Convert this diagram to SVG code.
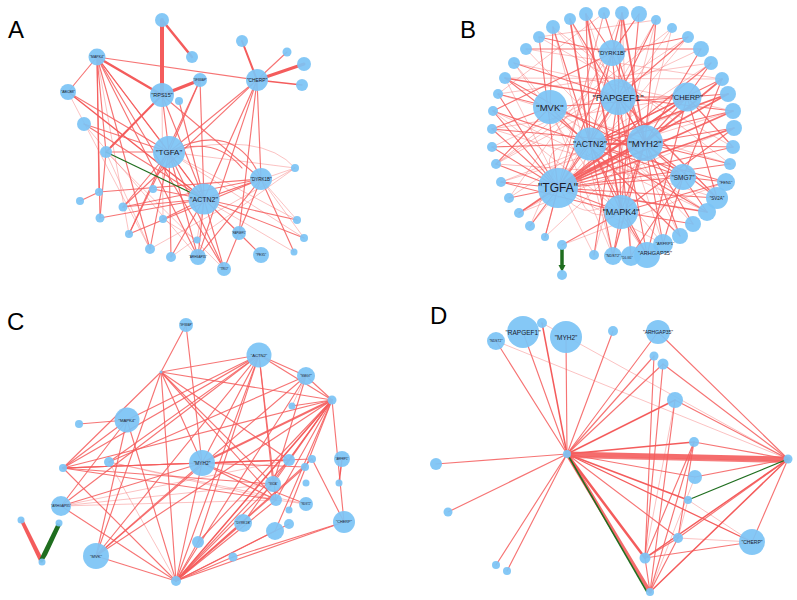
<svg xmlns="http://www.w3.org/2000/svg" width="797" height="600" viewBox="0 0 797 600">
<style>
.n{fill:#7cc4f5;fill-opacity:.93}
.e{stroke:#f45c5c;fill:none;stroke-linecap:round}
.m{stroke-width:1.15;stroke-opacity:.85}
.k{stroke-width:1.7;stroke-opacity:.9}
.lt{stroke-width:.9;stroke-opacity:.42}
.g{stroke:#1f6e1f;fill:none}
.t{font-family:"Liberation Sans",Arial,sans-serif;text-anchor:middle;fill:#1a1a2a;dominant-baseline:central}
.p{font-family:"Liberation Sans",Arial,sans-serif;font-size:24px;fill:#000}
</style>
<rect width="797" height="600" fill="#fff"/>
<text class="p" x="8" y="38">A</text>
<text class="p" x="460" y="38">B</text>
<text class="p" x="7" y="330">C</text>
<text class="p" x="430" y="324">D</text>

<g id="connectors">
<g id="edges-A">
<path class="e" stroke-width="4" d="M162 95L162 20"/>
<path class="e" stroke-width="3" d="M200 80L162 95"/>
<path class="e" stroke-width="3" d="M257 80L304 64"/>
<path class="e" stroke-width="2.5" d="M97 57L162 95"/>
<path class="e" stroke-width="2.5" d="M192 57L162 20"/>
<path class="e" stroke-width="2" d="M257 80L242 41"/>
<path class="e" stroke-width="2" d="M162 95L106 152"/>
<path class="e" stroke-width="1.5" d="M257 80L302 85"/>
<path class="e" stroke-width="1.5" d="M68 92L204 199"/>
<path class="e m" d="M97 57L257 80"/>
<path class="e m" d="M97 57L68 92"/>
<path class="e m" d="M97 57L169 152"/>
<path class="e m" d="M97 57L204 199"/>
<path class="e m" d="M97 57L99 192"/>
<path class="e m" d="M97 57L100 218"/>
<path class="e m" d="M97 57L150 249"/>
<path class="e m" d="M97 57L198 257"/>
<path class="e m" d="M97 57L224 269"/>
<path class="e m" d="M97 57L106 152"/>
<path class="e m" d="M68 92L169 152"/>
<path class="e m" d="M162 95L169 152"/>
<path class="e m" d="M162 95L261 179"/>
<path class="e m" d="M162 95L204 199"/>
<path class="e m" d="M200 80L169 152"/>
<path class="e m" d="M200 80L204 199"/>
<path class="e m" d="M200 80L129 234"/>
<path class="e m" d="M179 101L204 199"/>
<path class="e m" d="M257 80L169 152"/>
<path class="e m" d="M257 80L261 179"/>
<path class="e m" d="M257 80L204 199"/>
<path class="e m" d="M257 80L239 233"/>
<path class="e m" d="M257 80L123 207"/>
<path class="e m" d="M257 80L198 257"/>
<path class="e m" d="M257 80L287 52"/>
<path class="e m" d="M84 124L169 152"/>
<path class="e m" d="M84 124L204 199"/>
<path class="e m" d="M106 152L169 152"/>
<path class="e m" d="M106 152L100 218"/>
<path class="e m" d="M169 152L204 199"/>
<path class="e m" d="M169 152L171 257"/>
<path class="e m" d="M169 152L198 257"/>
<path class="e m" d="M169 152L224 269"/>
<path class="e m" d="M169 152L123 207"/>
<path class="e m" d="M169 152L129 234"/>
<path class="e m" d="M169 152L150 249"/>
<path class="e m" d="M261 179L204 199"/>
<path class="e m" d="M261 179L123 207"/>
<path class="e m" d="M261 179L198 257"/>
<path class="e m" d="M261 179L224 269"/>
<path class="e m" d="M261 179L294 252"/>
<path class="e m" d="M261 179L99 192"/>
<path class="e m" d="M261 179L129 234"/>
<path class="e m" d="M204 199L100 218"/>
<path class="e m" d="M204 199L123 207"/>
<path class="e m" d="M204 199L163 219"/>
<path class="e m" d="M204 199L297 220"/>
<path class="e m" d="M204 199L239 233"/>
<path class="e m" d="M204 199L224 269"/>
<path class="e m" d="M204 199L198 257"/>
<path class="e m" d="M204 199L171 257"/>
<path class="e m" d="M204 199L304 238"/>
<path class="e m" d="M99 192L80 201"/>
<path class="e m" d="M239 233L261 255"/>
<path class="e m" d="M153 189L204 199"/>
<path class="e m" d="M169 152Q235 118 261 179"/>
<path class="e m" d="M169 152Q215 135 242 168"/>
<path class="e lt" d="M169 152Q262 130 295 168"/>
<path class="e lt" d="M169 152L295 168"/>
<path class="e lt" d="M169 152L297 220"/>
<path class="e lt" d="M295 168L150 249"/>
<path class="e lt" d="M295 168L171 257"/>
<path class="e lt" d="M295 168L204 199"/>
<path class="e lt" d="M204 199L294 252"/>
<path class="e lt" d="M204 199L261 255"/>
<path class="e lt" d="M106 152L150 249"/>
<path class="e lt" d="M84 124L198 257"/>
<path class="e lt" d="M68 92L150 249"/>
<path class="e lt" d="M97 57L129 234"/>
<path class="e lt" d="M261 179L304 238"/>
<path class="e lt" d="M169 152L304 238"/>
<path class="e lt" d="M162 95L163 219"/>
<path class="e lt" d="M106 152L224 269"/>
<path class="e lt" d="M197 240L204 199"/>
<path class="e lt" d="M163 219L197 240"/>
<path class="e lt" d="M261 179L297 220"/>
<path class="g" stroke-width="1.3" d="M106 152L204 199"/>
</g>

<g id="edges-B">
<path class="e lt" d="M656 20L594 255"/>
<path class="e lt" d="M639 14L509 198"/>
<path class="e lt" d="M622 13L530 226"/>
<path class="e lt" d="M604 13L545 237"/>
<path class="e lt" d="M570 19L680 236"/>
<path class="e lt" d="M553 27L730 164"/>
<path class="e lt" d="M539 37L733 147"/>
<path class="e lt" d="M514 63L733 111"/>
<path class="e lt" d="M505 78L722 79"/>
<path class="e lt" d="M498 94L711 63"/>
<path class="e lt" d="M493 111L707 212"/>
<path class="e lt" d="M492 129L717 198"/>
<path class="e lt" d="M492 147L701 49"/>
<path class="e lt" d="M496 164L688 37"/>
<path class="e lt" d="M501 182L728 94"/>
<path class="e lt" d="M519 213L734 128"/>
<path class="e lt" d="M562 245L726 182"/>
<path class="e lt" d="M622 13L631 256"/>
<path class="e lt" d="M586 14L663 244"/>
<path class="e lt" d="M526 49L693 224"/>
<path class="e lt" d="M688 37L530 226"/>
<path class="e lt" d="M672 28L496 164"/>
<path class="e lt" d="M711 63L509 198"/>
<path class="e lt" d="M733 111L501 182"/>
<path class="e lt" d="M730 164L498 94"/>
<path class="e lt" d="M663 244L514 63"/>
<path class="e lt" d="M613 256L553 27"/>
<path class="e lt" d="M656 20L539 37"/>
<path class="e lt" d="M604 13L498 94"/>
<path class="e lt" d="M672 28L613 256"/>
<path class="e lt" d="M558 188L604 13"/>
<path class="e lt" d="M558 188L656 20"/>
<path class="e lt" d="M558 188L663 244"/>
<path class="e lt" d="M645 143L519 213"/>
<path class="e lt" d="M645 143L545 237"/>
<path class="e lt" d="M590 144L672 28"/>
<path class="e lt" d="M618 97L496 164"/>
<path class="e lt" d="M687 97L492 129"/>
<path class="e lt" d="M683 177L496 164"/>
<path class="e lt" d="M621 212L493 111"/>
<path class="e lt" d="M550 107L707 212"/>
<path class="e lt" d="M550 107L613 256"/>
<path class="e lt" d="M505 78L594 255"/>
<path class="e lt" d="M514 63L647 255"/>
<path class="e lt" d="M526 49L722 79"/>
<path class="e lt" d="M553 27L717 198"/>
<path class="e lt" d="M558 188Q530 140 590 144"/>
<path class="e lt" d="M558 188Q600 250 645 143"/>
<path class="e lt" d="M590 144Q560 230 621 212"/>
<path class="e m" d="M558 188L492 129"/>
<path class="e m" d="M558 188L492 147"/>
<path class="e m" d="M558 188L496 164"/>
<path class="e m" d="M558 188L501 182"/>
<path class="e m" d="M558 188L509 198"/>
<path class="e m" d="M558 188L519 213"/>
<path class="e m" d="M558 188L530 226"/>
<path class="e m" d="M558 188L545 237"/>
<path class="e m" d="M558 188L539 37"/>
<path class="e m" d="M558 188L493 111"/>
<path class="e m" d="M558 188L498 94"/>
<path class="e m" d="M558 188L590 144"/>
<path class="e m" d="M558 188L621 212"/>
<path class="e m" d="M558 188L683 177"/>
<path class="e m" d="M558 188L717 198"/>
<path class="e m" d="M558 188L730 164"/>
<path class="e m" d="M558 188L733 147"/>
<path class="e m" d="M558 188L618 97"/>
<path class="e m" d="M558 188L612 53"/>
<path class="e m" d="M558 188L711 63"/>
<path class="e m" d="M645 143L570 19"/>
<path class="e m" d="M645 143L604 13"/>
<path class="e m" d="M645 143L656 20"/>
<path class="e m" d="M645 143L701 49"/>
<path class="e m" d="M645 143L734 128"/>
<path class="e m" d="M645 143L730 164"/>
<path class="e m" d="M645 143L717 198"/>
<path class="e m" d="M645 143L693 224"/>
<path class="e m" d="M645 143L663 244"/>
<path class="e m" d="M645 143L613 256"/>
<path class="e m" d="M645 143L621 212"/>
<path class="e m" d="M645 143L683 177"/>
<path class="e m" d="M645 143L687 97"/>
<path class="e m" d="M645 143L618 97"/>
<path class="e m" d="M645 143L550 107"/>
<path class="e m" d="M645 143L492 129"/>
<path class="e m" d="M590 144L493 111"/>
<path class="e m" d="M590 144L492 147"/>
<path class="e m" d="M590 144L505 78"/>
<path class="e m" d="M590 144L553 27"/>
<path class="e m" d="M590 144L586 14"/>
<path class="e m" d="M590 144L622 13"/>
<path class="e m" d="M590 144L722 79"/>
<path class="e m" d="M590 144L733 111"/>
<path class="e m" d="M590 144L733 147"/>
<path class="e m" d="M590 144L726 182"/>
<path class="e m" d="M590 144L707 212"/>
<path class="e m" d="M590 144L647 255"/>
<path class="e m" d="M590 144L613 256"/>
<path class="e m" d="M590 144L621 212"/>
<path class="e m" d="M590 144L683 177"/>
<path class="e m" d="M590 144L687 97"/>
<path class="e m" d="M590 144L618 97"/>
<path class="e m" d="M618 97L514 63"/>
<path class="e m" d="M618 97L622 13"/>
<path class="e m" d="M618 97L656 20"/>
<path class="e m" d="M618 97L688 37"/>
<path class="e m" d="M618 97L733 111"/>
<path class="e m" d="M618 97L717 198"/>
<path class="e m" d="M618 97L647 255"/>
<path class="e m" d="M618 97L594 255"/>
<path class="e m" d="M618 97L621 212"/>
<path class="e m" d="M618 97L687 97"/>
<path class="e m" d="M550 107L553 27"/>
<path class="e m" d="M550 107L498 94"/>
<path class="e m" d="M550 107L492 129"/>
<path class="e m" d="M550 107L496 164"/>
<path class="e m" d="M550 107L687 97"/>
<path class="e m" d="M550 107L680 236"/>
<path class="e m" d="M687 97L728 94"/>
<path class="e m" d="M687 97L711 63"/>
<path class="e m" d="M687 97L733 147"/>
<path class="e m" d="M687 97L717 198"/>
<path class="e m" d="M687 97L647 255"/>
<path class="e m" d="M687 97L519 213"/>
<path class="e m" d="M683 177L722 79"/>
<path class="e m" d="M683 177L726 182"/>
<path class="e m" d="M683 177L707 212"/>
<path class="e m" d="M683 177L663 244"/>
<path class="e m" d="M683 177L631 256"/>
<path class="e m" d="M683 177L505 78"/>
<path class="e m" d="M621 212L562 245"/>
<path class="e m" d="M621 212L613 256"/>
<path class="e m" d="M621 212L647 255"/>
<path class="e m" d="M621 212L693 224"/>
<path class="e m" d="M621 212L726 182"/>
<path class="e m" d="M621 212L734 128"/>
<path class="e m" d="M621 212L639 14"/>
<path class="e m" d="M621 212L501 182"/>
<path class="e m" d="M612 53L539 37"/>
<path class="e m" d="M612 53L586 14"/>
<path class="e m" d="M612 53L639 14"/>
<path class="e m" d="M612 53L688 37"/>
<path class="e m" d="M612 53L493 111"/>
<path class="e m" d="M612 53L680 236"/>
<path class="e m" d="M612 53L631 256"/>
<path class="e m" d="M526 49L701 49"/>
<path class="e k" d="M558 188L645 143"/>
<path class="e k" d="M560 184L647 140"/>
<path class="e k" d="M558 188L687 97"/>
<path class="e k" d="M558 188L728 94"/>
<path class="e k" d="M558 188L733 111"/>
<path class="e k" d="M558 188L734 128"/>
<path class="e k" d="M558 188L707 212"/>
<path class="e k" d="M590 144L728 94"/>
<path class="e k" d="M590 144L645 143"/>
<path class="e k" d="M645 143L722 79"/>
<path class="e k" d="M505 78L618 97"/>
<path class="e k" d="M586 14L621 212"/>
<path class="e k" d="M622 13L645 143"/>
<path class="e k" d="M570 19L590 144"/>
<path class="g" stroke-width="3.5" d="M562 249L562 266"/>
<path fill="#1f6e1f" d="M558.5 265L565.5 265L562 272Z"/>
</g>

<g id="edges-C">
<path class="e m" d="M186 325L161 372"/>
<path class="e m" d="M186 325L202 463"/>
<path class="e m" d="M161 372L259 355"/>
<path class="e m" d="M161 372L332 400"/>
<path class="e m" d="M161 372L63 468"/>
<path class="e m" d="M161 372L96 556"/>
<path class="e m" d="M161 372L176 581"/>
<path class="e m" d="M161 372L273 484"/>
<path class="e m" d="M161 372L202 463"/>
<path class="e m" d="M161 372L276 500"/>
<path class="e m" d="M161 372L289 460"/>
<path class="e m" d="M259 355L127 420"/>
<path class="e m" d="M259 355L63 468"/>
<path class="e m" d="M259 355L61 506"/>
<path class="e m" d="M259 355L96 556"/>
<path class="e m" d="M259 355L202 463"/>
<path class="e m" d="M259 355L176 581"/>
<path class="e m" d="M259 355L273 484"/>
<path class="e m" d="M259 355L306 376"/>
<path class="e m" d="M259 355L198 542"/>
<path class="e m" d="M259 355L332 400"/>
<path class="e m" d="M259 355L276 500"/>
<path class="e m" d="M259 355L109 462"/>
<path class="e m" d="M306 376L96 556"/>
<path class="e m" d="M306 376L176 581"/>
<path class="e m" d="M306 376L273 484"/>
<path class="e m" d="M306 376L109 462"/>
<path class="e m" d="M332 400L96 556"/>
<path class="e m" d="M332 400L198 542"/>
<path class="e m" d="M332 400L243 523"/>
<path class="e m" d="M332 400L276 500"/>
<path class="e m" d="M332 400L273 484"/>
<path class="e m" d="M332 400L289 460"/>
<path class="e m" d="M332 400L63 468"/>
<path class="e m" d="M332 400L306 376"/>
<path class="e m" d="M332 400L292 406"/>
<path class="e m" d="M332 400L275 531"/>
<path class="e m" d="M332 400L289 510"/>
<path class="e m" d="M332 400L344 522"/>
<path class="e m" d="M127 420L79 424"/>
<path class="e m" d="M127 420L63 468"/>
<path class="e m" d="M127 420L61 506"/>
<path class="e m" d="M127 420L96 556"/>
<path class="e m" d="M127 420L176 581"/>
<path class="e m" d="M202 463L63 468"/>
<path class="e m" d="M202 463L61 506"/>
<path class="e m" d="M202 463L96 556"/>
<path class="e m" d="M202 463L176 581"/>
<path class="e m" d="M202 463L276 500"/>
<path class="e m" d="M202 463L289 460"/>
<path class="e m" d="M202 463L306 504"/>
<path class="e m" d="M202 463L305 467"/>
<path class="e m" d="M63 468L273 484"/>
<path class="e m" d="M63 468L276 500"/>
<path class="e m" d="M63 468L289 460"/>
<path class="e m" d="M63 468L312 459"/>
<path class="e m" d="M63 468L176 581"/>
<path class="e lt" d="M61 506L276 500"/>
<path class="e lt" d="M61 506L273 484"/>
<path class="e m" d="M61 506L176 581"/>
<path class="e lt" d="M61 506L289 460"/>
<path class="e m" d="M176 581L96 556"/>
<path class="e m" d="M176 581L273 484"/>
<path class="e m" d="M176 581L276 500"/>
<path class="e m" d="M176 581L289 460"/>
<path class="e m" d="M176 581L243 523"/>
<path class="e m" d="M176 581L344 522"/>
<path class="e m" d="M176 581L233 557"/>
<path class="e m" d="M176 581L275 531"/>
<path class="e m" d="M176 581L198 542"/>
<path class="e m" d="M176 581L289 524"/>
<path class="e m" d="M176 581L305 467"/>
<path class="e m" d="M176 581L312 459"/>
<path class="e m" d="M344 522L233 557"/>
<path class="e m" d="M344 522L312 459"/>
<path class="e lt" d="M109 462L276 500"/>
<path class="e lt" d="M109 462L306 504"/>
<path class="e lt" d="M109 462L176 581"/>
<path class="e lt" d="M306 376L292 406"/>
<path class="e lt" d="M276 500L306 504"/>
<path class="e" stroke-width="2" stroke-opacity=".9" d="M332 400L202 463"/>
<path class="e" stroke-width="1.5" d="M332 400L176 581"/>
<path class="e" stroke-width="1.5" d="M342 459L339 483"/>
<polygon fill="#f45c5c" points="20,521 23,519 44,561 40,563"/>
<polygon fill="#1f6e1f" points="57,523 61,525 47,555 42,563 39,560"/>
</g>

<g id="edges-D">
<path class="e" stroke-width="5" stroke-opacity=".9" d="M567 454L788 459"/>
<path class="e" stroke-width="2" stroke-opacity=".8" d="M567 457L788 462"/>
<path class="e" stroke-width="3.5" stroke-opacity=".9" d="M567 454L650 592"/>
<path class="e" stroke-width="2.5" d="M567 454L645 558"/>
<path class="g" stroke-width="1.5" d="M569 457L647 592"/>
<path class="e" stroke-width="1.5" d="M567 454L688 500"/>
<path class="e" stroke-width="1.5" d="M567 454L694 442"/>
<path class="e" stroke-width="1.5" d="M567 454L675 400"/>
<path class="e" stroke-width="1.5" d="M567 454L542 323"/>
<path class="e" stroke-width="1.3" d="M567 454L752 542"/>
<path class="e m" d="M567 454L695 477"/>
<path class="e m" d="M567 454L678 538"/>
<path class="e m" d="M567 454L496 341"/>
<path class="e m" d="M567 454L523 332"/>
<path class="e m" d="M567 454L566 337"/>
<path class="e m" d="M567 454L658 332"/>
<path class="e m" d="M567 454L654 356"/>
<path class="e m" d="M567 454L663 364"/>
<path class="e m" d="M567 454L436 464"/>
<path class="e m" d="M567 454L448 512"/>
<path class="e m" d="M567 454L496 565"/>
<path class="e m" d="M567 454L507 571"/>
<path class="e m" d="M567 454L613 331"/>
<path class="e m" d="M788 459L658 332"/>
<path class="e m" d="M788 459L663 364"/>
<path class="e m" d="M788 459L675 400"/>
<path class="e m" d="M788 459L694 442"/>
<path class="e m" d="M788 459L695 477"/>
<path class="e m" d="M788 459L752 542"/>
<path class="e m" d="M788 459L678 538"/>
<path class="e" stroke-width="1.5" d="M788 459L645 558"/>
<path class="e" stroke-width="1.5" d="M788 459L650 592"/>
<path class="e lt" d="M788 459L542 323"/>
<path class="e lt" d="M788 459L496 341"/>
<path class="g" stroke-width="1.3" d="M788 459L688 500"/>
<path class="e m" d="M694 442L645 558"/>
<path class="e m" d="M694 442L650 592"/>
<path class="e m" d="M654 356L645 558"/>
<path class="e m" d="M663 364L645 558"/>
<path class="e lt" d="M675 400L645 558"/>
<path class="e m" d="M675 400L650 592"/>
<path class="e m" d="M678 538L645 558"/>
<path class="e m" d="M678 538L650 592"/>
<path class="e m" d="M645 558L752 542"/>
<path class="e lt" d="M678 538L752 542"/>
<path class="e lt" d="M688 500L752 542"/>
<path class="e lt" d="M695 477L650 592"/>
<path class="e m" d="M694 442L678 538"/>
<path class="e lt" d="M688 500L678 538"/>
<path class="e m" d="M645 558L650 592"/>
</g>
</g>

<g id="A-nodes">
<g id="a1"><circle class="n" cx="162" cy="20" r="7"/></g>
<g id="a2"><circle class="n" cx="192" cy="57" r="6"/></g>
<g id="a-MAPK4"><circle class="n" cx="97" cy="57" r="8.5"/><text class="t" x="97" y="57" font-size="3.5">"MAPK4"</text></g>
<g id="a-RPS15"><circle class="n" cx="162" cy="95" r="12"/><text class="t" x="162" y="95" font-size="5.5">"RPS15"</text></g>
<g id="a-SFSWAP"><circle class="n" cx="200" cy="80" r="7"/><text class="t" x="200" y="80" font-size="2.8">"SFSWAP"</text></g>
<g id="a6"><circle class="n" cx="179" cy="101" r="4"/></g>
<g id="a-CHERP"><circle class="n" cx="257" cy="80" r="11"/><text class="t" x="257" y="80" font-size="4.8">"CHERP"</text></g>
<g id="a8"><circle class="n" cx="242" cy="41" r="6"/></g>
<g id="a9"><circle class="n" cx="287" cy="52" r="4.5"/></g>
<g id="a10"><circle class="n" cx="304" cy="64" r="7"/></g>
<g id="a11"><circle class="n" cx="302" cy="85" r="6"/></g>
<g id="a-ABCB8"><circle class="n" cx="68" cy="92" r="8"/><text class="t" x="68" y="92" font-size="3.5">"ABCB8"</text></g>
<g id="a13"><circle class="n" cx="84" cy="124" r="7"/></g>
<g id="a14"><circle class="n" cx="106" cy="152" r="6"/></g>
<g id="a-TGFA"><circle class="n" cx="169" cy="152" r="16"/><text class="t" x="169" y="152" font-size="8">"TGFA"</text></g>
<g id="a-DYRK1B"><circle class="n" cx="261" cy="179" r="11"/><text class="t" x="261" y="179" font-size="4.5">"DYRK1B"</text></g>
<g id="a-ACTN2"><circle class="n" cx="204" cy="199" r="15.5"/><text class="t" x="204" y="199" font-size="7">"ACTN2"</text></g>
<g id="a18"><circle class="n" cx="295" cy="168" r="4"/></g>
<g id="a19"><circle class="n" cx="99" cy="192" r="4"/></g>
<g id="a20"><circle class="n" cx="80" cy="201" r="4"/></g>
<g id="a21"><circle class="n" cx="153" cy="189" r="4"/></g>
<g id="a22"><circle class="n" cx="123" cy="207" r="4.5"/></g>
<g id="a23"><circle class="n" cx="100" cy="218" r="4.5"/></g>
<g id="a24"><circle class="n" cx="163" cy="219" r="4"/></g>
<g id="a25"><circle class="n" cx="129" cy="234" r="4"/></g>
<g id="a26"><circle class="n" cx="150" cy="249" r="5"/></g>
<g id="a27"><circle class="n" cx="171" cy="257" r="5"/></g>
<g id="a-ARHGAP35"><circle class="n" cx="198" cy="257" r="8"/><text class="t" x="198" y="257" font-size="3">"ARHGAP35"</text></g>
<g id="a29"><circle class="n" cx="197" cy="240" r="3.5"/></g>
<g id="a-RAPGEF1"><circle class="n" cx="239" cy="233" r="7"/><text class="t" x="239" y="233" font-size="2.6">"RAPGEF1"</text></g>
<g id="a-PEX5"><circle class="n" cx="261" cy="255" r="8"/><text class="t" x="261" y="255" font-size="3.2">"PEX5"</text></g>
<g id="a-TRO"><circle class="n" cx="224" cy="269" r="7"/><text class="t" x="224" y="269" font-size="3.2">"TRO"</text></g>
<g id="a33"><circle class="n" cx="297" cy="220" r="4"/></g>
<g id="a34"><circle class="n" cx="304" cy="238" r="4"/></g>
<g id="a35"><circle class="n" cx="294" cy="252" r="3.5"/></g>
</g>

<g id="B-nodes">
<g id="b1"><circle class="n" cx="656" cy="20" r="5"/></g>
<g id="b2"><circle class="n" cx="639" cy="14" r="8"/></g>
<g id="b3"><circle class="n" cx="622" cy="13" r="7"/></g>
<g id="b4"><circle class="n" cx="604" cy="13" r="6"/></g>
<g id="b5"><circle class="n" cx="586" cy="14" r="7"/></g>
<g id="b6"><circle class="n" cx="570" cy="19" r="6"/></g>
<g id="b7"><circle class="n" cx="553" cy="27" r="7"/></g>
<g id="b8"><circle class="n" cx="539" cy="37" r="6"/></g>
<g id="b9"><circle class="n" cx="526" cy="49" r="6"/></g>
<g id="b10"><circle class="n" cx="514" cy="63" r="6"/></g>
<g id="b11"><circle class="n" cx="505" cy="78" r="6"/></g>
<g id="b12"><circle class="n" cx="498" cy="94" r="5"/></g>
<g id="b13"><circle class="n" cx="493" cy="111" r="5"/></g>
<g id="b14"><circle class="n" cx="492" cy="129" r="5"/></g>
<g id="b15"><circle class="n" cx="492" cy="147" r="5"/></g>
<g id="b16"><circle class="n" cx="496" cy="164" r="5"/></g>
<g id="b17"><circle class="n" cx="501" cy="182" r="5"/></g>
<g id="b18"><circle class="n" cx="509" cy="198" r="5"/></g>
<g id="b19"><circle class="n" cx="519" cy="213" r="5"/></g>
<g id="b20"><circle class="n" cx="530" cy="226" r="5"/></g>
<g id="b21"><circle class="n" cx="545" cy="237" r="4"/></g>
<g id="b22"><circle class="n" cx="562" cy="245" r="5"/></g>
<g id="b22t"><circle class="n" cx="562" cy="275" r="5"/></g>
<g id="b23"><circle class="n" cx="594" cy="255" r="5"/></g>
<g id="b-NDST2"><circle class="n" cx="613" cy="256" r="9"/><text class="t" x="613" y="256" font-size="3.8">"NDST2"</text></g>
<g id="b-DLG5"><circle class="n" cx="631" cy="256" r="10"/><text class="t" x="627" y="258" font-size="3.4">"DLG5"</text></g>
<g id="b-ARFRP1"><circle class="n" cx="663" cy="244" r="10"/><text class="t" x="665" y="243" font-size="4">"ARFRP1"</text></g>
<g id="b-ARHGAP35"><circle class="n" cx="647" cy="255" r="13"/><text class="t" x="655" y="253" font-size="5.6">"ARHGAP35"</text></g>
<g id="b28"><circle class="n" cx="680" cy="236" r="8"/></g>
<g id="b29"><circle class="n" cx="693" cy="224" r="8"/></g>
<g id="b30"><circle class="n" cx="707" cy="212" r="9"/></g>
<g id="b-SV2A"><circle class="n" cx="717" cy="198" r="11"/><text class="t" x="717" y="198" font-size="4.5">"SV2A"</text></g>
<g id="b-FEN1"><circle class="n" cx="726" cy="182" r="9"/><text class="t" x="726" y="182" font-size="4">"FEN1"</text></g>
<g id="b33"><circle class="n" cx="730" cy="164" r="6"/></g>
<g id="b34"><circle class="n" cx="733" cy="147" r="7"/></g>
<g id="b35"><circle class="n" cx="734" cy="128" r="8"/></g>
<g id="b36"><circle class="n" cx="733" cy="111" r="8"/></g>
<g id="b37"><circle class="n" cx="728" cy="94" r="8"/></g>
<g id="b38"><circle class="n" cx="722" cy="79" r="7"/></g>
<g id="b39"><circle class="n" cx="711" cy="63" r="7"/></g>
<g id="b40"><circle class="n" cx="701" cy="49" r="8"/></g>
<g id="b41"><circle class="n" cx="688" cy="37" r="6"/></g>
<g id="b42"><circle class="n" cx="672" cy="28" r="5"/></g>
<g id="b-DYRK1B"><circle class="n" cx="612" cy="53" r="13"/><text class="t" x="612" y="53" font-size="6">"DYRK1B"</text></g>
<g id="b-RAPGEF1"><circle class="n" cx="618" cy="97" r="18"/><text class="t" x="618" y="97" font-size="9.5">"RAPGEF1"</text></g>
<g id="b-MVK"><circle class="n" cx="550" cy="107" r="17"/><text class="t" x="550" y="107" font-size="9.5">"MVK"</text></g>
<g id="b-CHERP"><circle class="n" cx="687" cy="97" r="14.5"/><text class="t" x="687" y="97" font-size="7.5">"CHERP"</text></g>
<g id="b-ACTN2"><circle class="n" cx="590" cy="144" r="16.5"/><text class="t" x="590" y="144" font-size="8.5">"ACTN2"</text></g>
<g id="b-MYH2"><circle class="n" cx="645" cy="143" r="18"/><text class="t" x="645" y="143" font-size="9.5">"MYH2"</text></g>
<g id="b-TGFA"><circle class="n" cx="558" cy="188" r="20"/><text class="t" x="558" y="188" font-size="12">"TGFA"</text></g>
<g id="b-SMG7"><circle class="n" cx="683" cy="177" r="13"/><text class="t" x="683" y="177" font-size="6.5">"SMG7"</text></g>
<g id="b-MAPK4"><circle class="n" cx="621" cy="212" r="17"/><text class="t" x="621" y="212" font-size="9">"MAPK4"</text></g>
</g>

<g id="C-nodes">
<g id="c-SFSWAP"><circle class="n" cx="186" cy="325" r="7"/><text class="t" x="186" y="325" font-size="2.6">"SFSWAP"</text></g>
<g id="c-ACTN2"><circle class="n" cx="259" cy="355" r="12.5"/><text class="t" x="259" y="355" font-size="4.2">"ACTN2"</text></g>
<g id="c-SMG7"><circle class="n" cx="306" cy="376" r="9"/><text class="t" x="306" y="376" font-size="3.3">"SMG7"</text></g>
<g id="c4"><circle class="n" cx="161" cy="372" r="1.5"/></g>
<g id="c5"><circle class="n" cx="332" cy="400" r="4.5"/></g>
<g id="c6"><circle class="n" cx="292" cy="406" r="3.5"/></g>
<g id="c-MAPK4"><circle class="n" cx="127" cy="420" r="12.5"/><text class="t" x="127" y="420" font-size="4.2">"MAPK4"</text></g>
<g id="c8"><circle class="n" cx="79" cy="424" r="4"/></g>
<g id="c9"><circle class="n" cx="109" cy="462" r="5"/></g>
<g id="c-MYH2"><circle class="n" cx="202" cy="463" r="13"/><text class="t" x="202" y="463" font-size="4.8">"MYH2"</text></g>
<g id="c11"><circle class="n" cx="63" cy="468" r="4"/></g>
<g id="c12"><circle class="n" cx="289" cy="460" r="6"/></g>
<g id="c13"><circle class="n" cx="312" cy="459" r="4"/></g>
<g id="c14"><circle class="n" cx="305" cy="467" r="4"/></g>
<g id="c-ARFRP1"><circle class="n" cx="342" cy="459" r="8"/><text class="t" x="342" y="459" font-size="2.8">"ARFRP1"</text></g>
<g id="c16"><circle class="n" cx="339" cy="483" r="3.5"/></g>
<g id="c17"><circle class="n" cx="306" cy="483" r="3.5"/></g>
<g id="c-SV2A"><circle class="n" cx="273" cy="484" r="8"/><text class="t" x="273" y="484" font-size="2.8">"SV2A"</text></g>
<g id="c19"><circle class="n" cx="276" cy="500" r="6"/></g>
<g id="c-NDST2"><circle class="n" cx="306" cy="504" r="7"/><text class="t" x="306" y="504" font-size="2.6">"NDST2"</text></g>
<g id="c-ARHGAP35"><circle class="n" cx="61" cy="506" r="10"/><text class="t" x="61" y="506" font-size="3.3">"ARHGAP35"</text></g>
<g id="c22"><circle class="n" cx="289" cy="510" r="3.5"/></g>
<g id="c-DYRK1B"><circle class="n" cx="243" cy="523" r="9"/><text class="t" x="243" y="523" font-size="3.3">"DYRK1B"</text></g>
<g id="c24"><circle class="n" cx="289" cy="524" r="5"/></g>
<g id="c-CHERP"><circle class="n" cx="344" cy="522" r="11"/><text class="t" x="344" y="522" font-size="3.8">"CHERP"</text></g>
<g id="c26"><circle class="n" cx="275" cy="531" r="9"/></g>
<g id="c27"><circle class="n" cx="198" cy="542" r="6"/></g>
<g id="c28"><circle class="n" cx="233" cy="557" r="4.5"/></g>
<g id="c-MVK"><circle class="n" cx="96" cy="556" r="13"/><text class="t" x="96" y="556" font-size="4.2">"MVK"</text></g>
<g id="c30"><circle class="n" cx="176" cy="581" r="5"/></g>
<g id="c31"><circle class="n" cx="21" cy="520" r="3.5"/></g>
<g id="c32"><circle class="n" cx="59" cy="523" r="3.5"/></g>
<g id="c33"><circle class="n" cx="42" cy="562" r="3.5"/></g>
</g>

<g id="D-nodes">
<g id="d-RAPGEF1"><circle class="n" cx="523" cy="332" r="16"/><text class="t" x="523" y="332" font-size="6.5">"RAPGEF1"</text></g>
<g id="d-MYH2"><circle class="n" cx="566" cy="337" r="16"/><text class="t" x="566" y="337" font-size="6.5">"MYH2"</text></g>
<g id="d3"><circle class="n" cx="542" cy="323" r="5"/></g>
<g id="d-NDST2"><circle class="n" cx="496" cy="341" r="9"/><text class="t" x="496" y="341" font-size="3.3">"NDST2"</text></g>
<g id="d5"><circle class="n" cx="613" cy="331" r="5"/></g>
<g id="d-ARHGAP35"><circle class="n" cx="658" cy="332" r="12"/><text class="t" x="658" y="332" font-size="5">"ARHGAP35"</text></g>
<g id="d7"><circle class="n" cx="654" cy="356" r="4.5"/></g>
<g id="d8"><circle class="n" cx="663" cy="364" r="5.5"/></g>
<g id="d9"><circle class="n" cx="675" cy="400" r="8"/></g>
<g id="d10"><circle class="n" cx="567" cy="454" r="4"/></g>
<g id="d11"><circle class="n" cx="694" cy="442" r="5"/></g>
<g id="d12"><circle class="n" cx="788" cy="459" r="4.5"/></g>
<g id="d13"><circle class="n" cx="436" cy="464" r="6"/></g>
<g id="d14"><circle class="n" cx="695" cy="477" r="7"/></g>
<g id="d15"><circle class="n" cx="688" cy="500" r="4"/></g>
<g id="d16"><circle class="n" cx="448" cy="512" r="4.5"/></g>
<g id="d-CHERP"><circle class="n" cx="752" cy="542" r="13"/><text class="t" x="752" y="542" font-size="5">"CHERP"</text></g>
<g id="d18"><circle class="n" cx="678" cy="538" r="5"/></g>
<g id="d19"><circle class="n" cx="645" cy="558" r="5.5"/></g>
<g id="d20"><circle class="n" cx="496" cy="565" r="4"/></g>
<g id="d21"><circle class="n" cx="507" cy="571" r="4"/></g>
<g id="d22"><circle class="n" cx="650" cy="592" r="4"/></g>
</g>
</svg>
